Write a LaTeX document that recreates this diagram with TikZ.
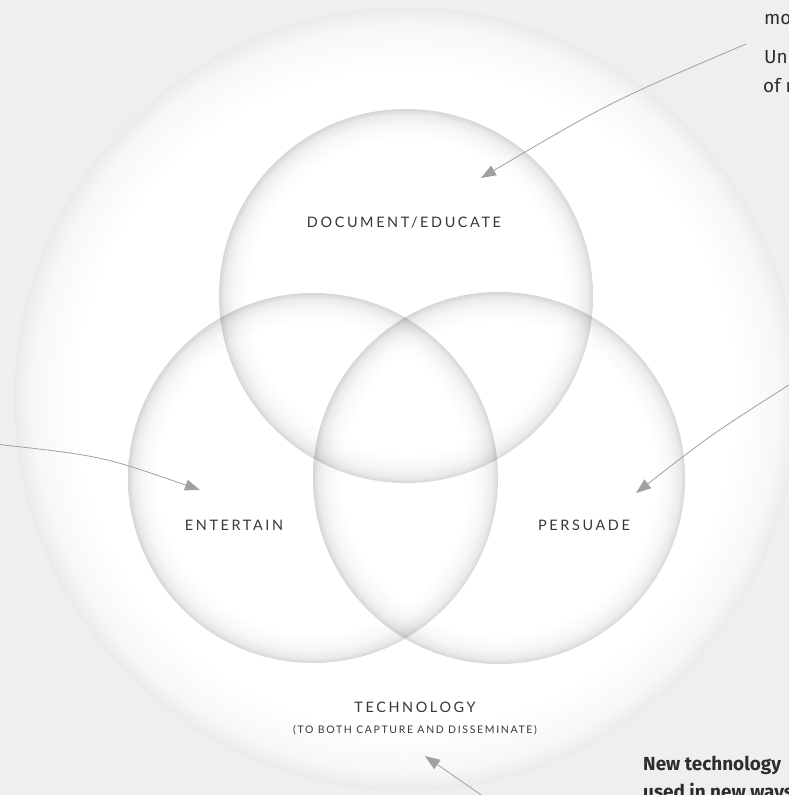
\documentclass[tikz,border=0pt]{standalone}
\usepackage{fontspec}
\setmainfont{Lato}
\newfontfamily\capsfont[LetterSpace=18]{Lato}
\newfontfamily\subcapsfont[LetterSpace=16]{Lato}
\newfontfamily\notefont{Fira Sans}
\usetikzlibrary{arrows.meta}

\definecolor{pagebg}{RGB}{239,239,241}
\definecolor{outerrim}{RGB}{235,235,237}
\definecolor{rimgray}{RGB}{214,214,214}
\definecolor{linegray}{RGB}{160,160,162}
\definecolor{labelgray}{RGB}{55,55,55}
\definecolor{notegray}{RGB}{45,45,48}

% soft inner rim for the large disc
\pgfdeclareradialshading{outerdisc}{\pgfpoint{0bp}{0bp}}{%
  color(0bp)=(white); color(21bp)=(white); color(23.8bp)=(outerrim!40!white);
  color(25bp)=(outerrim); color(50bp)=(outerrim)}
% soft inner rim for the three overlapping discs
\pgfdeclareradialshading{venndisc}{\pgfpoint{0bp}{0bp}}{%
  color(0bp)=(white); color(21bp)=(white); color(23bp)=(rimgray!18!white);
  color(24.3bp)=(rimgray!50!white); color(25bp)=(rimgray); color(50bp)=(rimgray)}

\tikzset{
  lbl/.style={font=\capsfont\fontsize{14.5}{17}\selectfont, text=labelgray, inner sep=0pt},
  sublbl/.style={font=\subcapsfont\fontsize{10.5}{12}\selectfont, text=labelgray, inner sep=0pt},
  note/.style={font=\notefont\fontsize{19}{28}\selectfont, text=notegray, inner sep=0pt, anchor=base west},
  boldnote/.style={note, font=\notefont\bfseries\fontsize{19}{28}\selectfont},
  conn/.style={draw=linegray, line width=0.8bp, -{Triangle[length=15bp,width=11bp,fill=linegray]}},
}

\begin{document}
\begin{tikzpicture}[x=1bp,y=-1bp]
  \useasboundingbox (0,0) rectangle (789,795);
  \fill[pagebg] (0,0) rectangle (789,795);
  \begin{scope}
    \clip (0,0) rectangle (789,795);

    % technology disc
    \shade[shading=outerdisc] (406,399) circle[radius=392];

    % three purposes
    \begin{scope}[blend mode=multiply]
      \shade[shading=venndisc] (406,296) circle[radius=187];
      \shade[shading=venndisc] (313,478) circle[radius=185];
      \shade[shading=venndisc] (499,478) circle[radius=186];
    \end{scope}

    % labels
    \node[lbl] (doc) at (404,223) {DOCUMENT/EDUCATE};
    \node[lbl] (ent) at (234,525) {ENTERTAIN};
    \node[lbl] (per) at (584,525) {PERSUADE};
    \node[lbl] (tech) at (415,707) {TECHNOLOGY};
    \node[sublbl] (techsub) at (415,730) {(TO BOTH CAPTURE AND DISSEMINATE)};

    % side notes
    \node[note] (noteA) at (764,25) {mo};
    \node[note] (noteB) at (764,64) {Un};
    \node[note] (noteC) at (763,92) {of m};
    \node[boldnote] (noteD) at (643,770) {New technology};
    \node[boldnote] (noteE) at (643,798) {used in new ways};

    % pointers
    \coordinate (fromTop) at (746,44);
    \coordinate (toTop) at (481,178);
    \coordinate (fromLeft) at (-5,444);
    \coordinate (toLeft) at (200,490);
    \coordinate (fromRight) at (792,383);
    \coordinate (toRight) at (636,493);
    \coordinate (fromBottom) at (490,801);
    \coordinate (toBottom) at (425,756);

    \draw[conn] (fromTop) .. controls (610,102) .. (toTop);
    \draw[conn] (fromLeft) .. controls (102,456) .. (toLeft);
    \draw[conn] (fromRight) .. controls (712,434) .. (toRight);
    \draw[conn] (fromBottom) -- (toBottom);
  \end{scope}
\end{tikzpicture}
\end{document}
